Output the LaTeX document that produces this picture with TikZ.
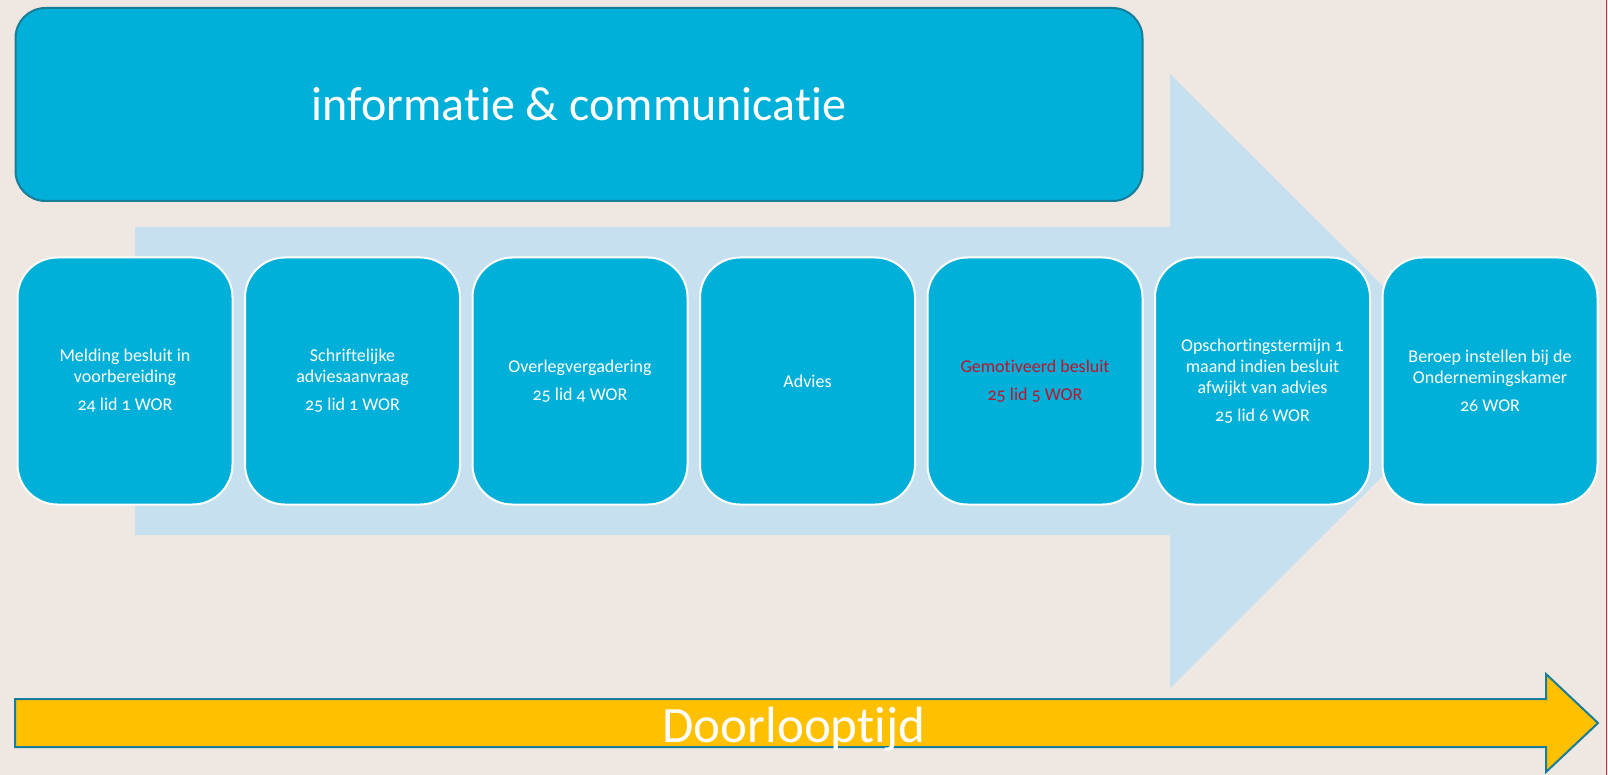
\documentclass[tikz,border=0pt]{standalone}
\usepackage{fontspec}
\setmainfont{Carlito}[Numbers=OldStyle, Ligatures=NoCommon]
\usepackage{tikz}
\usetikzlibrary{positioning}
\definecolor{achtergrond}{RGB}{239,231,226}
\definecolor{lichtblauw}{RGB}{199,224,239}
\definecolor{kaderblauw}{RGB}{0,176,216}
\definecolor{randblauw}{RGB}{24,125,152}
\definecolor{tijdgeel}{RGB}{255,192,0}
\definecolor{besluitrood}{RGB}{190,20,45}
\definecolor{randrood}{RGB}{192,48,74}
\tikzset{%
    % stappen in het adviestraject
    stap/.style    = {draw=white, line width=2pt, fill=kaderblauw,
    rounded corners=40pt, minimum width=215pt, minimum height=247pt,
    align=center, text=white, inner sep=4pt,
    font=\fontsize{18}{21}\selectfont},
    % kop en tijdbalk
    kop/.style     = {draw=randblauw, line width=2pt, fill=kaderblauw,
    rounded corners=30pt, minimum width=1127pt, minimum height=193pt},
    koptekst/.style= {text=white, font=\fontsize{48}{56}\selectfont},
    tijdtekst/.style={text=white, font=\fontsize{51}{60}\selectfont,
    anchor=base}
}

\begin{document}
\begin{tikzpicture}[x=1pt, y=-1pt]

	% achtergrond
	\fill[achtergrond] (0,0) rectangle (1608,775);
	\useasboundingbox (0,0) rectangle (1608,775);
	\draw[randrood, line width=1.5pt] (1606.5,0) -- (1606.5,775);

	% grote pijl op de achtergrond
	\fill[lichtblauw] (135,227) -- (1170,227) -- (1170,74) -- (1478,381)
	  -- (1170,688) -- (1170,535) -- (135,535) -- cycle;

	% kop
	\node[kop] (info) at (579,104.5) {};
	\node[koptekst, anchor=base] (infotekst) at (579,121) {informatie \& communicatie};

	% stappen
	\node[stap] (s1) at (125,381) {Melding besluit in\\voorbereiding\\[7pt]24 lid 1 WOR};
	\node[stap, right=10.5pt of s1] (s2) {Schriftelijke\\adviesaanvraag\\[7pt]25 lid 1 WOR};
	\node[stap, right=10.5pt of s2] (s3) {Overlegvergadering\\[7pt]25 lid 4 WOR};
	\node[stap, right=10.5pt of s3] (s4) {Advies};
	\node[stap, right=10.5pt of s4, text=besluitrood] (s5) {Gemotiveerd besluit\\[7pt]25 lid 5 WOR};
	\node[stap, right=10.5pt of s5] (s6) {Opschortingstermijn 1\\maand indien besluit\\afwijkt van advies\\[7pt]25 lid 6 WOR};
	\node[stap, right=10.5pt of s6] (s7) {Beroep instellen bij de\\Ondernemingskamer\\[7pt]26 WOR};

	% doorlooptijd
	\filldraw[fill=tijdgeel, draw=randblauw, line width=2pt] (15,699) -- (1546,699)
	  -- (1546,674) -- (1598,723) -- (1546,772) -- (1546,747) -- (15,747) -- cycle;
	\node[tijdtekst] (tijd) at (794,742) {Doorlooptijd};

\end{tikzpicture}
\end{document}
